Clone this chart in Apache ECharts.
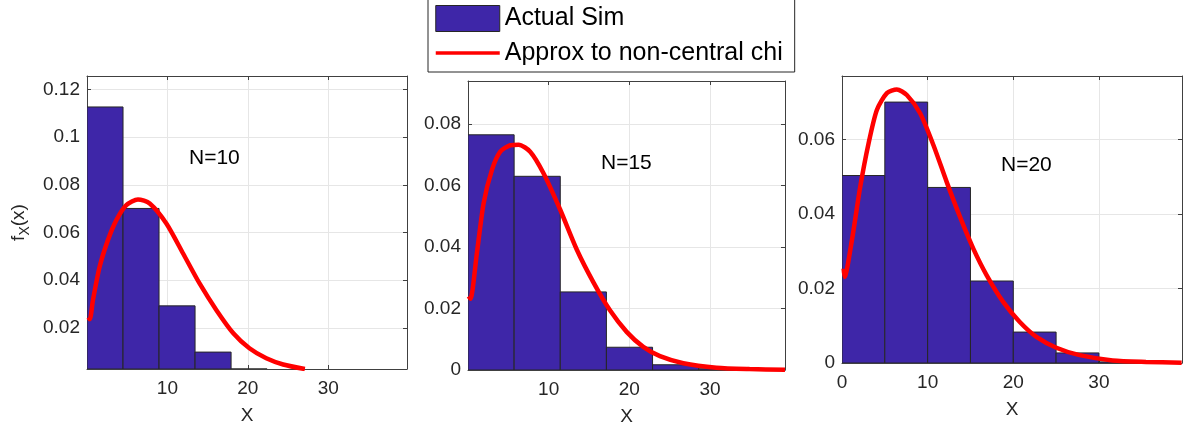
<!DOCTYPE html>
<html>
<head>
<meta charset="utf-8">
<script src="https://cdn.jsdelivr.net/npm/echarts@6/dist/echarts.min.js"></script>
<style>
html,body{margin:0;padding:0;background:#fff;}
#chart{width:1187px;height:431px;}
</style>
</head>
<body>
<div id="chart"></div>
<script>
// ---------- data ----------
const panelTitles = ['N=10', 'N=15', 'N=20'];

const edgesN10 = [0, 4.48, 8.96, 13.44, 17.92, 22.4];
const densN10  = [0.1127, 0.0701, 0.0292, 0.0098, 0.0020];
const edgesN15 = [0, 5.72, 11.44, 17.16, 22.88, 28.6, 34.32];
const densN15  = [0.0765, 0.0630, 0.0254, 0.0074, 0.0017, 0.0004];
const edgesN20 = [0, 5, 10, 15, 20, 25, 30, 35];
const densN20  = [0.0503, 0.0700, 0.0471, 0.0220, 0.0083, 0.0027, 0.0003];

const curveXN10 = [0.16, 0.35, 0.74, 1.57, 2.6, 3.65, 4.89, 6.34, 7.8, 9.87, 11.95, 14.0, 16.1, 18.2, 20.2, 22.3, 24.4, 27.1];
const curveYN10 = [0.0244, 0.0236, 0.0316, 0.0456, 0.0568, 0.0652, 0.0715, 0.0739, 0.0722, 0.0638, 0.0512, 0.0386, 0.0274, 0.0177, 0.0114, 0.0072, 0.0046, 0.0027];
const curveXN15 = [0.08, 0.3, 1.11, 1.94, 2.97, 4.0, 5.24, 6.27, 7.71, 9.36, 11.42, 13.48, 15.55, 17.6, 19.67, 21.73, 23.8, 26.7, 30.8, 34.9, 39.3];
const curveYN15 = [0.0240, 0.0232, 0.0382, 0.0543, 0.0651, 0.0710, 0.0731, 0.0733, 0.0710, 0.0640, 0.0522, 0.0392, 0.0285, 0.0194, 0.0124, 0.0075, 0.0045, 0.0022, 0.00075, 0.0003, 0.0001];
const curveXN20 = [0.19, 0.3, 1.16, 2.13, 3.1, 4.07, 5.24, 6.4, 7.57, 9.12, 10.67, 12.22, 13.78, 15.33, 16.88, 18.82, 20.76, 22.7, 25.03, 27.75, 31.6, 35.5, 39.66];
const curveYN20 = [0.0253, 0.0231, 0.0330, 0.0473, 0.0589, 0.0679, 0.0724, 0.0734, 0.0719, 0.0670, 0.0585, 0.0486, 0.0392, 0.0307, 0.0236, 0.0164, 0.0110, 0.0070, 0.0041, 0.0021, 0.0007, 0.0003, 0.0001];

const xTicksN10 = [10, 20, 30];
const xTicksN15 = [10, 20, 30];
const xTicksN20 = [0, 10, 20, 30];
const yTicksN10 = [0.02, 0.04, 0.06, 0.08, 0.1, 0.12];
const yTicksN15 = [0, 0.02, 0.04, 0.06, 0.08];
const yTicksN20 = [0, 0.02, 0.04, 0.06];

const xLimN10 = [0, 39.8];
const xLimN15 = [0, 39.3];
const xLimN20 = [0, 39.7];
const yLimN10 = [0.0027, 0.1257];
const yLimN15 = [0, 0.094];
const yLimN20 = [0, 0.077];

const legendNames = ['Actual Sim', 'Approx to non-central chi'];

// ---------- layout / style ----------
const FONT = 'Liberation Sans, Arial, Helvetica, sans-serif';
const AXC = '#404040';
const grids = [
  {left: 87, top: 76, width: 320, height: 293},
  {left: 468, top: 81, width: 317, height: 291},
  {left: 842, top: 76, width: 340, height: 287}
];
const titlePos = [
  {left: 189, top: 148},
  {left: 601, top: 153},
  {left: 1001, top: 155}
];

const panels = [
  {edges: edgesN10, dens: densN10, cx: curveXN10, cy: curveYN10, xt: xTicksN10, yt: yTicksN10, xl: xLimN10, yl: yLimN10},
  {edges: edgesN15, dens: densN15, cx: curveXN15, cy: curveYN15, xt: xTicksN15, yt: yTicksN15, xl: xLimN15, yl: yLimN15},
  {edges: edgesN20, dens: densN20, cx: curveXN20, cy: curveYN20, xt: xTicksN20, yt: yTicksN20, xl: xLimN20, yl: yLimN20}
];

function histRender(yMin) {
  return function (params, api) {
    const x0 = api.value(0), x1 = api.value(1);
    const v = Math.max(api.value(2), yMin);
    const p0 = api.coord([x0, v]);
    const p1 = api.coord([x1, yMin]);
    return {
      type: 'rect',
      shape: {x: p0[0], y: p0[1], width: p1[0] - p0[0], height: p1[1] - p0[1]},
      style: {fill: '#3E26A8', stroke: '#262626', lineWidth: 1}
    };
  };
}

const xAxes = [], yAxes = [], series = [], titles = [];
panels.forEach((p, i) => {
  const tickBase = {show: true, inside: true, length: 4, lineStyle: {color: AXC}};
  xAxes.push({
    type: 'value', gridIndex: i, position: 'bottom', min: p.xl[0], max: p.xl[1],
    name: 'X', nameLocation: 'middle', nameGap: 37,
    nameTextStyle: {fontFamily: FONT, fontSize: 19, color: '#262626'},
    axisLine: {show: true, onZero: false, lineStyle: {color: AXC}},
    axisTick: Object.assign({customValues: p.xt}, tickBase),
    axisLabel: {customValues: p.xt, margin: 10, fontFamily: FONT, fontSize: 19, color: '#262626'},
    splitLine: {show: true, lineStyle: {color: '#e6e6e6', width: 1}}
  });
  xAxes.push({
    type: 'value', gridIndex: i, position: 'top', min: p.xl[0], max: p.xl[1],
    axisLine: {show: true, onZero: false, lineStyle: {color: AXC}},
    axisTick: Object.assign({customValues: p.xt}, tickBase),
    axisLabel: {show: false, customValues: p.xt},
    splitLine: {show: false}
  });
  const yMain = {
    type: 'value', gridIndex: i, position: 'left', min: p.yl[0], max: p.yl[1],
    axisLine: {show: true, onZero: false, lineStyle: {color: AXC}},
    axisTick: Object.assign({customValues: p.yt}, tickBase),
    axisLabel: {customValues: p.yt, margin: 7, fontFamily: FONT, fontSize: 19, color: '#262626'},
    splitLine: {show: true, lineStyle: {color: '#e6e6e6', width: 1}}
  };
  if (i === 0) {
    yMain.name = '{a|f}{b|X}{a|(x)}';
    yMain.nameLocation = 'middle';
    yMain.nameGap = 46;
    yMain.nameTextStyle = {
      fontFamily: FONT, color: '#262626',
      rich: {
        a: {fontFamily: FONT, fontSize: 19, color: '#262626', lineHeight: 20, verticalAlign: 'top'},
        b: {fontFamily: FONT, fontSize: 14, color: '#262626', lineHeight: 32, verticalAlign: 'middle'}
      }
    };
  }
  yAxes.push(yMain);
  yAxes.push({
    type: 'value', gridIndex: i, position: 'right', min: p.yl[0], max: p.yl[1],
    axisLine: {show: true, onZero: false, lineStyle: {color: AXC}},
    axisTick: Object.assign({customValues: p.yt}, tickBase),
    axisLabel: {show: false, customValues: p.yt},
    splitLine: {show: false}
  });

  const histData = p.dens.map((d, k) => [p.edges[k], p.edges[k + 1], d]);
  series.push({
    name: legendNames[0], type: 'custom', xAxisIndex: 2 * i, yAxisIndex: 2 * i,
    renderItem: histRender(p.yl[0]), clip: true,
    encode: {x: [0, 1], y: 2},
    itemStyle: {color: '#3E26A8', borderColor: '#262626', borderWidth: 1},
    data: histData, z: 2
  });
  series.push({
    name: legendNames[1], type: 'line', xAxisIndex: 2 * i, yAxisIndex: 2 * i,
    data: p.cx.map((x, k) => [x, p.cy[k]]),
    showSymbol: false, symbol: 'none', smooth: 0.25, clip: true,
    lineStyle: {color: '#FF0000', width: 4.5}, itemStyle: {color: '#FF0000'},
    z: 3
  });
  titles.push({
    text: panelTitles[i], left: titlePos[i].left, top: titlePos[i].top, padding: 0,
    textStyle: {fontFamily: FONT, fontSize: 21, fontWeight: 'normal', color: '#000'}
  });
});

const chart = echarts.init(document.getElementById('chart'), null, {renderer: 'canvas'});
chart.setOption({
  animation: false,
  backgroundColor: '#fff',
  title: titles,
  grid: grids,
  xAxis: xAxes,
  yAxis: yAxes,
  legend: {
    orient: 'vertical', left: 428, top: -2,
    padding: [7, 12, 6, 6],
    itemWidth: 64, itemHeight: 26, itemGap: 8,
    borderColor: '#262626', borderWidth: 1, backgroundColor: '#fff',
    textStyle: {fontFamily: FONT, fontSize: 25, color: '#000', lineHeight: 26},
    data: [
      {name: legendNames[0], icon: 'rect', itemStyle: {color: '#3E26A8', borderColor: '#262626', borderWidth: 1}},
      {name: legendNames[1], lineStyle: {width: 3.5, color: '#FF0000'},
       itemStyle: {color: 'rgba(0,0,0,0)', borderColor: 'rgba(0,0,0,0)', borderWidth: 0, opacity: 0}}
    ]
  },
  series: series
});
</script>
</body>
</html>
